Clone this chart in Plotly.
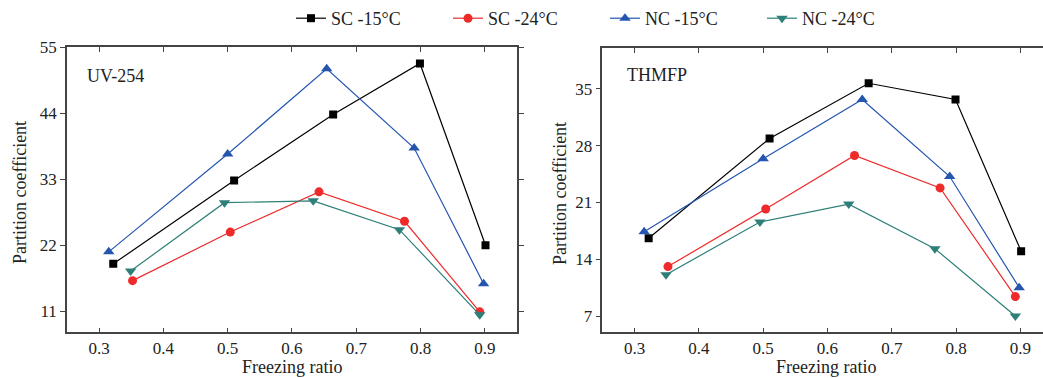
import plotly.graph_objects as go

# ---- data ----
series_names = ["SC -15°C", "SC -24°C", "NC -15°C", "NC -24°C"]
colors = ["#000000", "#ee2a2a", "#2456b0", "#2e7f78"]
symbols = ["square", "circle", "triangle-up", "triangle-down"]
sizes = [8, 9, 10, 10]

x_sc15 = [0.322, 0.510, 0.664, 0.799, 0.901]
x_sc24 = [0.352, 0.504, 0.642, 0.775, 0.892]
x_nc15 = [0.315, 0.500, 0.654, 0.790, 0.898]
x_nc24 = [0.349, 0.495, 0.633, 0.767, 0.892]

uv_sc15 = [18.9, 32.8, 43.8, 52.3, 22.0]
uv_sc24 = [16.1, 24.2, 30.9, 26.0, 10.9]
uv_nc15 = [20.9, 37.2, 51.4, 38.2, 15.6]
uv_nc24 = [17.7, 29.1, 29.4, 24.6, 10.4]

th_sc15 = [16.6, 28.9, 35.7, 33.7, 15.0]
th_sc24 = [13.1, 20.2, 26.8, 22.8, 9.4]
th_nc15 = [17.4, 26.4, 33.7, 24.2, 10.5]
th_nc24 = [12.1, 18.6, 20.8, 15.3, 7.0]

x_ticks = [0.3, 0.4, 0.5, 0.6, 0.7, 0.8, 0.9]
uv_ticks = [11, 22, 33, 44, 55]
th_ticks = [7, 14, 21, 28, 35]

xs = [x_sc15, x_sc24, x_nc15, x_nc24]
uv = [uv_sc15, uv_sc24, uv_nc15, uv_nc24]
th = [th_sc15, th_sc24, th_nc15, th_nc24]

FONT = "Liberation Serif"

fig = go.Figure()
for i, name in enumerate(series_names):
    mk = dict(symbol=symbols[i], size=sizes[i], color=colors[i])
    fig.add_trace(go.Scatter(x=xs[i], y=uv[i], mode="lines+markers", name=name,
                             line=dict(color=colors[i], width=1.2), marker=mk,
                             xaxis="x", yaxis="y", legendgroup=name))
    fig.add_trace(go.Scatter(x=xs[i], y=th[i], mode="lines+markers", name=name,
                             line=dict(color=colors[i], width=1.2), marker=mk,
                             xaxis="x2", yaxis="y2", legendgroup=name, showlegend=False))

axis_common = dict(showgrid=False, zeroline=False, linecolor="#444", linewidth=1.5,
                   tickfont=dict(family=FONT, size=17, color="#222"),
                   tickcolor="#444", ticklen=5, tickwidth=1)

fig.update_layout(
    width=1043, height=378,
    margin=dict(l=0, r=0, t=0, b=0, autoexpand=False),
    paper_bgcolor="white", plot_bgcolor="white",
    font=dict(family=FONT, color="#222"),
    xaxis=dict(domain=[0.0642, 0.4957], range=[0.25, 0.95], tickvals=x_ticks,
               ticktext=[f"{v:.1f}" for v in x_ticks], ticks="inside", mirror="ticks",
               anchor="y", **axis_common),
    yaxis=dict(domain=[0.121, 0.875], range=[7.5, 55], tickvals=uv_ticks,
               ticks="outside", mirror="ticks", anchor="x", **axis_common),
    xaxis2=dict(domain=[0.5775, 1.0], range=[0.25, 0.935], tickvals=x_ticks,
                ticktext=[f"{v:.1f}" for v in x_ticks], ticks="inside", mirror="ticks",
                anchor="y2", **axis_common),
    yaxis2=dict(domain=[0.121, 0.872], range=[5, 40], tickvals=th_ticks,
                ticks="outside", mirror=False, anchor="x2", **axis_common),
    legend=dict(orientation="h", x=0.279, y=1.0, xanchor="left", yanchor="top",
                font=dict(family=FONT, size=18, color="#222"),
                entrywidth=112, entrywidthmode="pixels", bgcolor="rgba(0,0,0,0)"),
)

ann_font = dict(family=FONT, size=18, color="#222")
fig.add_annotation(text="UV-254", xref="paper", yref="paper", x=85/1043, y=1-76/378,
                   xanchor="left", yanchor="middle", showarrow=False, font=ann_font)
fig.add_annotation(text="THMFP", xref="paper", yref="paper", x=625/1043, y=1-75/378,
                   xanchor="left", yanchor="middle", showarrow=False, font=ann_font)
for cx in [292/1043, 826/1043]:
    fig.add_annotation(text="Freezing ratio", xref="paper", yref="paper", x=cx, y=0.0,
                       xanchor="center", yanchor="bottom", showarrow=False, font=ann_font,
                       borderpad=0)
for cx, cy in [(19.5/1043, 1-192.5/378), (560/1043, 1-194/378)]:
    fig.add_annotation(text="Partition coefficient", xref="paper", yref="paper", x=cx, y=cy,
                       xanchor="center", yanchor="middle", showarrow=False, textangle=-90,
                       font=ann_font)

fig.write_html("out.html", config={"displayModeBar": False},
               post_script="document.body.style.margin='0';document.body.style.overflow='hidden';")
